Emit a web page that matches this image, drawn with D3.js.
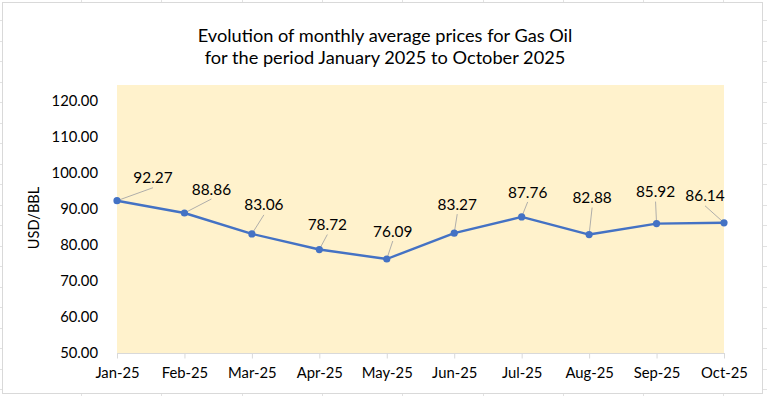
<!DOCTYPE html>
<html>
<head>
<meta charset="utf-8">
<script src="https://cdn.jsdelivr.net/npm/d3@7"></script>
<style>
  html, body { margin: 0; padding: 0; background: #fff; }
  svg { display: block; font-family: Lato, "Open Sans", sans-serif; }
</style>
</head>
<body>
<div id="chart"></div>
<script>
"use strict";

// chart data
const months = ["Jan-25", "Feb-25", "Mar-25", "Apr-25", "May-25",
                "Jun-25", "Jul-25", "Aug-25", "Sep-25", "Oct-25"];
const prices = [92.27, 88.86, 83.06, 78.72, 76.09, 83.27, 87.76, 82.88, 85.92, 86.14];
const yTicks = [50, 60, 70, 80, 90, 100, 110, 120];
const titleLines = ["Evolution of monthly average prices for Gas Oil",
                    "for the period January 2025 to October 2025"];
const yTitle = "USD/BBL";

// where each data label sits relative to its point (dx, dy of label centre)
const labelOffsets = [[36, -23], [27, -24], [12, -29], [8, -25], [6, -28],
                      [3, -29], [6, -25], [3, -37], [-1, -32], [-19, -27]];

const width = 767, height = 396;
const plot = {left: 117, right: 724, top: 85, bottom: 353};

const svg = d3.select("#chart").append("svg")
    .attr("width", width).attr("height", height);

// faint worksheet cells behind the chart
const cells = svg.append("g").attr("stroke", "#e2e2e2").attr("stroke-width", 1);
for (let x = 81; x < width; x += 80.3) {
  cells.append("line").attr("x1", Math.round(x) + 0.5).attr("x2", Math.round(x) + 0.5)
      .attr("y1", 0).attr("y2", height);
}
for (let y = 20; y < height; y += 20.5) {
  cells.append("line").attr("y1", Math.round(y) + 0.5).attr("y2", Math.round(y) + 0.5)
      .attr("x1", 0).attr("x2", width);
}

// chart area
svg.append("rect")
    .attr("x", 2.5).attr("y", 2.5).attr("width", 760).attr("height", 391)
    .attr("fill", "#fff").attr("stroke", "#d9d9d9");

// title
svg.append("text")
    .attr("x", 385).attr("y", 42)
    .attr("text-anchor", "middle")
    .attr("font-size", 18.2)
    .attr("fill", "#000")
    .selectAll("tspan")
    .data(titleLines)
    .enter().append("tspan")
    .attr("x", 385)
    .attr("dy", (d, i) => i === 0 ? 0 : 22)
    .text(d => d);

// plot background
svg.append("rect")
    .attr("x", plot.left).attr("y", plot.top)
    .attr("width", plot.right - plot.left).attr("height", plot.bottom - plot.top)
    .attr("fill", "#fff2cc");

const x = d3.scalePoint().domain(months).range([plot.left, plot.right]);
const y = d3.scaleLinear().domain([50, 120]).range([plot.bottom, 100.8]);

// x axis
const xAxis = svg.append("g")
    .attr("transform", "translate(0," + plot.bottom + ")")
    .call(d3.axisBottom(x).tickSize(5.5).tickPadding(9));
xAxis.select(".domain").attr("stroke", "#d9d9d9").attr("d", "M" + plot.left + ",0.5H" + plot.right);
xAxis.selectAll(".tick line").attr("stroke", "#d9d9d9");
xAxis.selectAll(".tick text")
    .attr("font-family", "Lato, sans-serif").attr("font-size", 14.8).attr("fill", "#000");

// y axis (labels only)
const yAxis = svg.append("g")
    .attr("transform", "translate(" + plot.left + ",0)")
    .call(d3.axisLeft(y).tickValues(yTicks).tickFormat(d3.format(".2f")).tickSize(0).tickPadding(19));
yAxis.select(".domain").remove();
yAxis.selectAll(".tick text")
    .attr("font-family", "Lato, sans-serif").attr("font-size", 14.8).attr("fill", "#000");

// y axis title
svg.append("text")
    .attr("transform", "translate(39,218) rotate(-90)")
    .attr("text-anchor", "middle")
    .attr("font-size", 14.6)
    .attr("fill", "#000")
    .text(yTitle);

const points = months.map((m, i) => ({month: m, value: prices[i],
                                     dx: labelOffsets[i][0], dy: labelOffsets[i][1]}));

// leader lines
svg.append("g").selectAll("line")
    .data(points)
    .enter().append("line")
    .attr("x1", d => x(d.month) + d.dx)
    .attr("y1", d => y(d.value) + d.dy + 10)
    .attr("x2", d => x(d.month))
    .attr("y2", d => y(d.value))
    .attr("stroke", "#a6a6a6")
    .attr("stroke-width", 0.9);

// price line
const line = d3.line().x(d => x(d.month)).y(d => y(d.value));
svg.append("path")
    .datum(points)
    .attr("d", line)
    .attr("fill", "none")
    .attr("stroke", "#4472c4")
    .attr("stroke-width", 2.4)
    .attr("stroke-linejoin", "round");

// markers
svg.append("g").selectAll("circle")
    .data(points)
    .enter().append("circle")
    .attr("cx", d => x(d.month))
    .attr("cy", d => y(d.value))
    .attr("r", 3.6)
    .attr("fill", "#4472c4");

// data labels
svg.append("g").selectAll("text")
    .data(points)
    .enter().append("text")
    .attr("x", d => x(d.month) + d.dx)
    .attr("y", d => y(d.value) + d.dy)
    .attr("dy", "0.36em")
    .attr("text-anchor", "middle")
    .attr("font-size", 15.4)
    .attr("fill", "#000")
    .text(d => d3.format(".2f")(d.value));
</script>
</body>
</html>
